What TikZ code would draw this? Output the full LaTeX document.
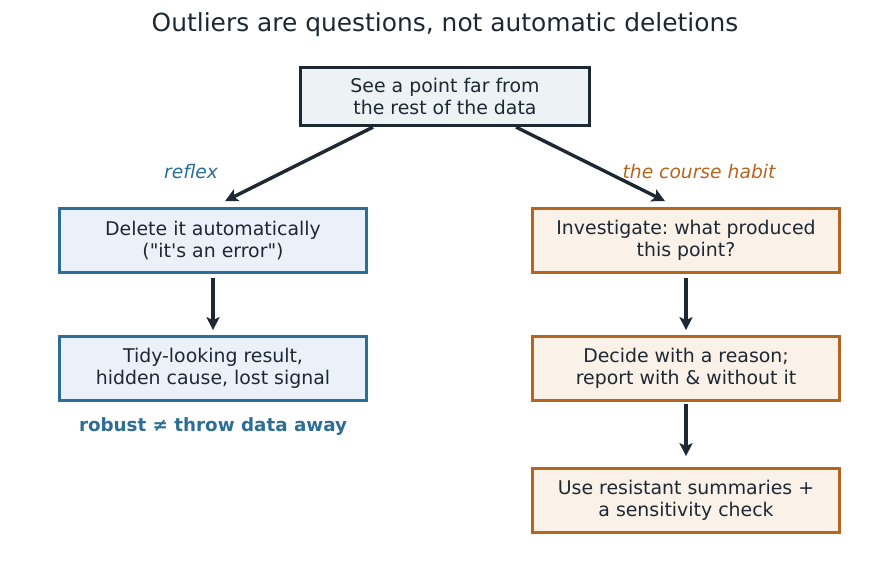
\documentclass[tikz,border=0pt]{standalone}
\usepackage{fontspec}
\setmainfont{DejaVu Sans}
\usetikzlibrary{arrows.meta}
\frenchspacing

\definecolor{ink}{HTML}{1E2833}
\definecolor{topfill}{HTML}{EDF2F4}
\definecolor{reflexcol}{HTML}{2C6E96}
\definecolor{reflexfill}{HTML}{EAF1F8}
\definecolor{habitcol}{HTML}{B5651D}
\definecolor{habitfill}{HTML}{FAF1E8}

\tikzset{
  box/.style={draw, line width=3.2pt, align=center, text=ink,
    font=\fontsize{18.9}{22.5}\selectfont, inner sep=2pt},
  startbox/.style={box, draw=ink, fill=topfill,
    minimum width=289pt, minimum height=58pt},
  reflexbox/.style={box, draw=reflexcol, fill=reflexfill,
    minimum width=307pt, minimum height=63.5pt},
  habitbox/.style={box, draw=habitcol, fill=habitfill,
    minimum width=307pt, minimum height=63.5pt},
  flow/.style={draw=ink, line width=3.4pt,
    -{Stealth[length=13pt, width=13pt, inset=3pt]}},
  branch/.style={font=\fontsize{18.7}{22}\selectfont\itshape}
}

\begin{document}
\begin{tikzpicture}[x=1pt, y=-1pt]

    \def\lx{213}
    \def\rx{686}

    \useasboundingbox (0,0) rectangle (890,569);

    % --- Title ---
    \node[text=ink, font=\fontsize{24.9}{28}\selectfont] (title) at (445,25)
        {Outliers are questions, not automatic deletions};

    % --- Starting point ---
    \node[startbox] (see) at (445,96.5) {See a point far from\\the rest of the data};

    % --- Reflex branch (left) ---
    \node[reflexbox] (delete) at (\lx,240.5)
        {Delete it automatically\\(\textquotedbl it\textquotesingle s an error\textquotedbl)};
    \node[reflexbox] (tidy) at (\lx,368.5) {Tidy-looking result,\\hidden cause, lost signal};
    \node[text=reflexcol, font=\fontsize{18.3}{22}\selectfont\bfseries] (robust) at (\lx,426.5)
        {robust ≠ throw data away};

    % --- Course habit (right) ---
    \node[habitbox] (investigate) at (\rx,240.5) {Investigate: what produced\\this point?};
    \node[habitbox] (decide) at (\rx,368.5) {Decide with a reason;\\report with \& without it};
    \node[habitbox] (resistant) at (\rx,500.5) {Use resistant summaries +\\a sensitivity check};

    % --- Branch labels ---
    \node[branch, text=reflexcol] (reflexlbl) at (191,172) {reflex};
    \node[branch, text=habitcol] (habitlbl) at (699,172) {the course habit};

    % --- Arrows ---
    \draw[flow] ([xshift=-72pt]see.south) -- ([xshift=12pt, yshift=6pt]delete.north);
    \draw[flow] ([xshift=71pt]see.south) -- ([xshift=-21pt, yshift=6pt]investigate.north);
    \draw[flow] ([yshift=-4pt]delete.south) -- ([yshift=5pt]tidy.north);
    \draw[flow] ([yshift=-4pt]investigate.south) -- ([yshift=5pt]decide.north);
    \draw[flow] ([yshift=-2pt]decide.south) -- ([yshift=11pt]resistant.north);

\end{tikzpicture}
\end{document}
